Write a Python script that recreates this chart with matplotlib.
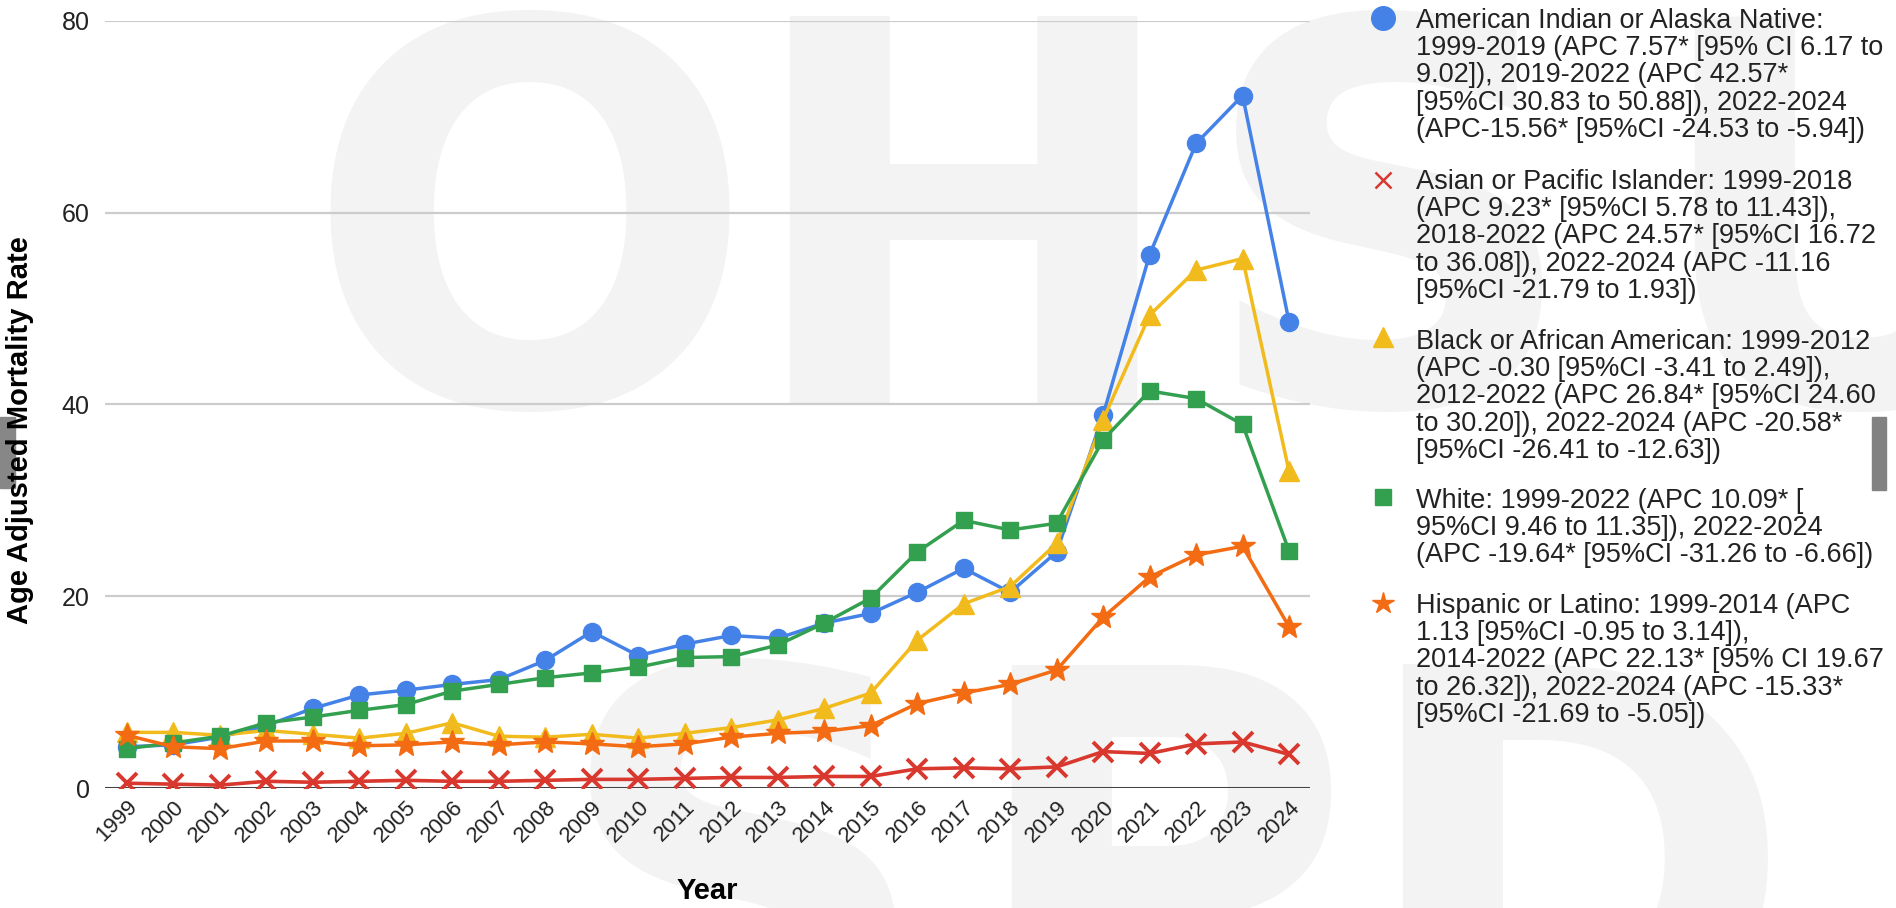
import matplotlib
matplotlib.use("Agg")
import matplotlib.pyplot as plt
from matplotlib.lines import Line2D
from matplotlib.patches import Rectangle

plt.rcParams["font.family"] = ["Liberation Sans", "DejaVu Sans"]

years = list(range(1999, 2025))

aian = [4.3, 4.5, 5.3, 6.5, 8.3, 9.7, 10.2, 10.8, 11.3, 13.3, 16.3, 13.8, 15.0,
        15.9, 15.6, 17.2, 18.2, 20.4, 22.9, 20.4, 24.6, 38.9, 55.6, 67.2, 72.2, 48.6]
api = [0.5, 0.4, 0.3, 0.7, 0.6, 0.7, 0.8, 0.7, 0.7, 0.8, 0.9, 0.9, 1.0,
       1.1, 1.1, 1.2, 1.2, 2.0, 2.1, 2.0, 2.2, 3.8, 3.6, 4.6, 4.8, 3.5]
black = [5.8, 5.8, 5.5, 6.0, 5.6, 5.2, 5.7, 6.8, 5.4, 5.3, 5.6, 5.2, 5.7,
         6.3, 7.1, 8.3, 9.9, 15.4, 19.2, 21.0, 25.5, 38.4, 49.3, 54.0, 55.2, 33.0]
white = [4.1, 4.7, 5.4, 6.8, 7.4, 8.1, 8.7, 10.1, 10.8, 11.5, 12.0, 12.6, 13.6,
         13.7, 14.9, 17.2, 19.8, 24.6, 27.9, 26.9, 27.6, 36.3, 41.4, 40.6, 37.9, 24.7]
hispanic = [5.5, 4.3, 4.1, 4.9, 4.9, 4.4, 4.5, 4.8, 4.5, 4.8, 4.6, 4.3, 4.6,
            5.3, 5.7, 5.9, 6.5, 8.8, 9.9, 10.8, 12.3, 17.8, 22.0, 24.3, 25.2, 16.8]

labels = [
    "American Indian or Alaska Native:\n1999-2019 (APC 7.57* [95% CI 6.17 to\n"
    "9.02]), 2019-2022 (APC 42.57*\n[95%CI 30.83 to 50.88]), 2022-2024\n"
    "(APC-15.56* [95%CI -24.53 to -5.94])",
    "Asian or Pacific Islander: 1999-2018\n(APC 9.23* [95%CI 5.78 to 11.43]),\n"
    "2018-2022 (APC 24.57* [95%CI 16.72\nto 36.08]), 2022-2024 (APC -11.16\n"
    "[95%CI -21.79 to 1.93])",
    "Black or African American: 1999-2012\n(APC -0.30 [95%CI -3.41 to 2.49]),\n"
    "2012-2022 (APC 26.84* [95%CI 24.60\nto 30.20]), 2022-2024 (APC -20.58*\n"
    "[95%CI -26.41 to -12.63])",
    "White: 1999-2022 (APC 10.09* [\n95%CI 9.46 to 11.35]), 2022-2024\n"
    "(APC -19.64* [95%CI -31.26 to -6.66])",
    "Hispanic or Latino: 1999-2014 (APC\n1.13 [95%CI -0.95 to 3.14]),\n"
    "2014-2022 (APC 22.13* [95% CI 19.67\nto 26.32]), 2022-2024 (APC -15.33*\n"
    "[95%CI -21.69 to -5.05])",
]

series = [aian, api, black, white, hispanic]
colors = ["#4582e8", "#d8382e", "#f2bb1d", "#33a04f", "#f36b12"]
markers = ["o", "x", "^", "s", "*"]
msizes = [13, 14, 15, 12, 18]

W, H = 1896, 908
fig = plt.figure(figsize=(W / 100, H / 100), dpi=100)


def fx(px):
    return px / W


def fy(py):
    return 1 - py / H


# faint background lettering
wm = dict(fontsize=383, fontweight="bold", color="#f3f3f3", zorder=-5,
          ha="left", va="baseline", family="DejaVu Sans")
for ch, x in [("O", 303), ("H", 740), ("S", 1198), ("U", 1645)]:
    fig.text(fx(x), fy(404), ch, **wm)
for ch, x in [("S", 552), ("P", 962), ("D", 1353)]:
    fig.text(fx(x), fy(1052), ch, **wm)

ax = fig.add_axes([fx(105), fy(788), fx(1310 - 105), (788 - 20.7) / H])
ax.set_facecolor("none")

for vals, c, m, ms in zip(series, colors, markers, msizes):
    if m == "x":
        ax.plot(years, vals, color=c, lw=2.6, marker=m, ms=ms, mew=2.8, zorder=3)
    else:
        ax.plot(years, vals, color=c, lw=2.5, marker=m, ms=ms, mec=c, zorder=3)

ax.set_xlim(1998.53, 2024.45)
ax.set_ylim(0, 80)
ax.set_yticks([0, 20, 40, 60, 80])
ax.yaxis.grid(True, color="#cccccc", lw=1.6)
ax.set_axisbelow(True)
ax.axhline(0, color="#333333", lw=2, zorder=2)
for s in ax.spines.values():
    s.set_visible(False)
ax.tick_params(axis="y", length=0, pad=11, labelsize=18, labelcolor="#222222")
ax.tick_params(axis="x", length=0, pad=6, labelsize=16, labelcolor="#222222")
ax.set_xticks(years)
ax.set_xticklabels([str(y) for y in years], rotation=45, ha="right",
                   rotation_mode="anchor")

fig.text(fx(707), fy(891), "Year", fontsize=21, fontweight="bold",
         ha="center", va="center")
fig.text(fx(20), fy(430), "Age Adjusted Mortality Rate", fontsize=21,
         fontweight="bold", rotation=90, ha="center", va="center")

# legend drawn by hand beside the plot
text_tops = [8, 169, 329, 488, 593]
marker_y = [18, 180, 337, 497, 603]
leg_ms = [17, 11, 14, 11, 16]
for lab, c, m, ms, ty, my in zip(labels, colors, markers, leg_ms, text_tops, marker_y):
    fig.add_artist(Line2D([fx(1383)], [fy(my)], transform=fig.transFigure,
                          marker=m, ms=ms, color=c, mec=c,
                          mew=1.8 if m == "x" else 1, ls="none"))
    fig.text(fx(1416), fy(ty), lab, fontsize=19.5, color="#222222",
             ha="left", va="top", linespacing=1.06)

fig.add_artist(Rectangle((0, fy(488)), fx(15), 71 / H, transform=fig.transFigure,
                         color="#878787", zorder=1))
fig.add_artist(Rectangle((fx(1872), fy(490)), fx(14), 73 / H,
                         transform=fig.transFigure, color="#828282", zorder=1))

fig.savefig("out.png", dpi=100)
plt.close(fig)
